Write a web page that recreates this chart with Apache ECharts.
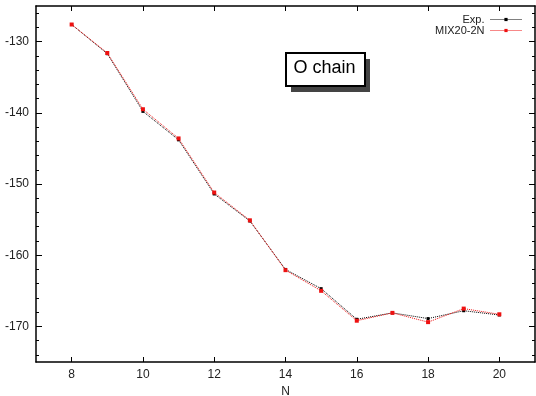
<!DOCTYPE html>
<html><head><meta charset="utf-8">
<script src="https://cdn.jsdelivr.net/npm/echarts@6/dist/echarts.min.js"></script>
<style>html,body{margin:0;padding:0;background:#fff}#c{width:536px;height:396px}</style>
</head><body><div id="c"></div>
<script>
const N = [8, 9, 10, 11, 12, 13, 14, 15, 16, 17, 18, 19, 20];
const expVals = [-127.6, -131.7, -139.8, -143.8, -151.4, -155.2, -162.0, -164.7, -169.0, -168.1, -168.9, -167.8, -168.4];
const mixVals = [-127.6, -131.6, -139.5, -143.6, -151.2, -155.1, -162.1, -165.0, -169.2, -168.1, -169.4, -167.5, -168.3];
const xTicks = [8, 10, 12, 14, 16, 18, 20];
const yTicks = [-170, -160, -150, -140, -130];
const yMinor = [-174, -172, -168, -166, -164, -162, -158, -156, -154, -152, -148, -146, -144, -142, -138, -136, -134, -132, -128, -126];
const titleText = 'O chain';

const font = 'Liberation Sans, Arial, sans-serif';
const chart = echarts.init(document.getElementById('c'), null, {renderer: 'canvas'});
const X = [7, 21], Y = [-175, -125];
function xAx(pos, show) {
  return {type: 'value', min: X[0], max: X[1], position: pos,
    name: show ? 'N' : '', nameLocation: 'middle', nameGap: 22,
    nameTextStyle: {color: '#222', fontSize: 12, fontFamily: font},
    axisLine: {show: true, onZero: false, lineStyle: {color: '#000', width: 1.5}},
    axisTick: {show: true, inside: true, length: 5, customValues: xTicks, lineStyle: {color: '#000'}},
    axisLabel: {show: show, customValues: xTicks, color: '#222', fontSize: 12, fontFamily: font, margin: 7},
    splitLine: {show: false}};
}
function yAx(pos, show, ticks, len, line) {
  return {type: 'value', min: Y[0], max: Y[1], position: pos,
    axisLine: {show: line, onZero: false, lineStyle: {color: '#000', width: 1.5}},
    axisTick: {show: true, inside: true, length: len, customValues: ticks, lineStyle: {color: '#000'}},
    axisLabel: {show: show, customValues: ticks, color: '#222', fontSize: 12, fontFamily: font, margin: 7},
    splitLine: {show: false}};
}
chart.setOption({
  animation: false,
  backgroundColor: '#fff',
  graphic: [
    {type: 'rect', left: 291, top: 59, shape: {width: 79, height: 33}, style: {fill: '#444'}, z: 10},
    {type: 'rect', left: 285, top: 52, shape: {width: 79, height: 33}, style: {fill: '#fff', stroke: '#000', lineWidth: 2}, z: 11},
    {type: 'text', x: 324.5, y: 68.5, style: {text: titleText, fill: '#000', fontSize: 18, fontFamily: font, align: 'center', verticalAlign: 'middle'}, z: 12}
  ],
  legend: {orient: 'vertical', right: 9, top: 9, align: 'right', itemWidth: 31, itemHeight: 4, itemGap: 0,
    lineStyle: {width: 1, type: 'dotted'},
    textStyle: {fontSize: 11, lineHeight: 10, color: '#222', fontFamily: font, padding: [0, 1, 0, 0]},
    data: ['Exp.', 'MIX20-2N']},
  grid: {left: 36, right: 1, top: 6, bottom: 34, outerBoundsMode: 'none', containLabel: false},
  xAxis: [xAx('bottom', true), xAx('top', false)],
  yAxis: [yAx('left', true, yTicks, 6, true), yAx('right', false, yTicks, 6, true),
          yAx('left', false, yMinor, 3, false), yAx('right', false, yMinor, 3, false)],
  series: [
    {name: 'Exp.', type: 'line', xAxisIndex: 0, yAxisIndex: 0,
     data: N.map((n, i) => [n, expVals[i]]),
     symbol: 'rect', symbolSize: 3, itemStyle: {color: '#000'},
     lineStyle: {color: '#000', width: 1, type: 'dotted'}, z: 2},
    {name: 'MIX20-2N', type: 'line', xAxisIndex: 0, yAxisIndex: 0,
     data: N.map((n, i) => [n, mixVals[i]]),
     symbol: 'rect', symbolSize: 4, itemStyle: {color: '#ee1111'},
     lineStyle: {color: '#ee1111', width: 1, type: 'dotted'}, z: 3}
  ]
});
</script></body></html>
